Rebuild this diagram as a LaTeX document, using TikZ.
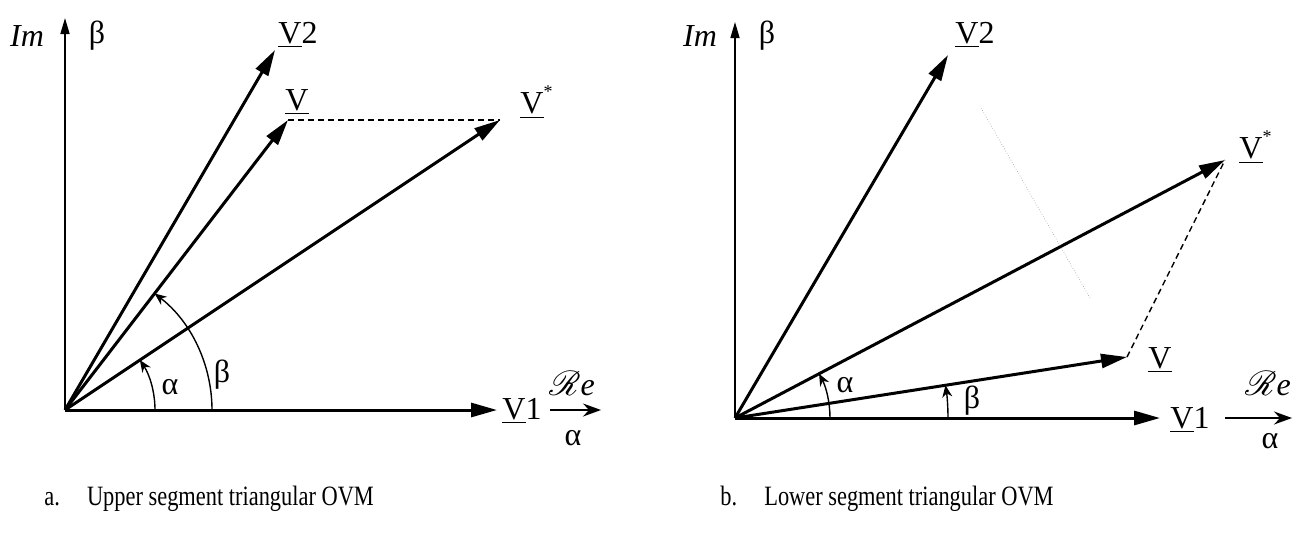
\documentclass[tikz,border=0pt]{standalone}
\usepackage{fontspec}
\setmainfont{Liberation Serif}
\usepackage{mathrsfs}
\usetikzlibrary{arrows.meta}
\definecolor{faintgray}{HTML}{9A9A9A}

\begin{document}
\begin{tikzpicture}[x=0.5pt,y=-0.5pt,
  vec/.style={line width=1.5pt,-{Triangle[length=13pt,width=7pt]}},
  axis/.style={line width=0.8pt,-{Triangle[length=8pt,width=4.5pt]}},
  reaxis/.style={line width=0.8pt,-{Stealth[length=9pt,width=6.5pt,inset=3pt]}},
  angarc/.style={line width=0.7pt,-{Stealth[length=6pt,width=5pt]}},
  dashline/.style={line width=0.7pt,dash pattern=on 3pt off 2pt},
  lbl/.style={inner sep=0pt,font=\fontsize{16}{18}\selectfont},
  captext/.style={inner sep=0pt,anchor=base west,xscale=0.8,font=\fontsize{14}{16}\selectfont}]
  \useasboundingbox (0,0) rectangle (1306,532);

  % a. upper segment
  \coordinate (oa) at (65,410);
  \coordinate (ima) at (65,18);
  \coordinate (v1a) at (497,410);
  \coordinate (v2a) at (275,50);
  \coordinate (va) at (288,120);
  \coordinate (vsa) at (500,120);
  \coordinate (rea) at (550,410);
  \coordinate (reaend) at (601,410);

  \draw[axis] (oa) -- (ima);
  \draw[vec] (oa) -- (v1a);
  \draw[vec] (oa) -- (v2a);
  \draw[vec] (oa) -- (va);
  \draw[vec] (oa) -- (vsa);
  \draw[dashline] (va) -- (vsa);
  \draw[reaxis] (rea) -- (reaend);
  \draw[angarc] (oa) ++(90,0) arc[start angle=0,end angle=-33.69,radius=90];
  \draw[angarc] (oa) ++(147,0) arc[start angle=0,end angle=-52.44,radius=147];

  \node[lbl] (ima-l) at (27,36) {\textit{Im}};
  \node[lbl] (beta-a) at (97,36) {β};
  \node[lbl,anchor=west] (v2a-l) at (278,35) {\underline{V}2};
  \node[lbl] (va-l) at (297,102) {\underline{V}};
  \node[lbl] (vsa-l) at (532,102) {\underline{V}\rlap{\raisebox{1.1ex}{\small *}}};
  \node[lbl] (v1a-l) at (522,411) {\underline{V}1};
  \node[lbl] (rea-l) at (572,384) {$\mathscr{R}\mathit{e}$};
  \node[lbl] (alpha-ax-a) at (573,438) {α};
  \node[lbl] (alpha-a) at (170,387) {α};
  \node[lbl] (beta-arc-a) at (222,375) {β};
  \node[captext] (cap-a) at (44,505) {a.\hspace{17pt}Upper segment triangular OVM};

  % b. lower segment
  \coordinate (ob) at (735,418);
  \coordinate (imb) at (735,22);
  \coordinate (v1b) at (1160,418);
  \coordinate (v2b) at (948,55);
  \coordinate (vb) at (1127,357);
  \coordinate (vsb) at (1225,160);
  \coordinate (reb) at (1225,418);
  \coordinate (rebend) at (1292,418);
  \coordinate (fainttop) at (981,108);
  \coordinate (faintbot) at (1090,298);

  \draw[axis] (ob) -- (imb);
  \draw[vec] (ob) -- (v1b);
  \draw[vec] (ob) -- (v2b);
  \draw[vec] (ob) -- (vb);
  \draw[vec] (ob) -- (vsb);
  \draw[dashline] (vb) -- (vsb);
  \draw[faintgray,line width=0.3pt,densely dotted] (fainttop) -- (faintbot);
  \draw[reaxis] (reb) -- (rebend);
  \draw[angarc] (ob) ++(95,0) arc[start angle=0,end angle=-27.77,radius=95];
  \draw[angarc] (ob) ++(213,0) arc[start angle=0,end angle=-8.85,radius=213];

  \node[lbl] (imb-l) at (700,36) {\textit{Im}};
  \node[lbl] (beta-b) at (767,36) {β};
  \node[lbl,anchor=west] (v2b-l) at (955,35) {\underline{V}2};
  \node[lbl] (vsb-l) at (1251,147) {\underline{V}\rlap{\raisebox{1.1ex}{\small *}}};
  \node[lbl] (vb-l) at (1160,360) {\underline{V}};
  \node[lbl] (v1b-l) at (1190,420) {\underline{V}1};
  \node[lbl] (reb-l) at (1268,384) {$\mathscr{R}\mathit{e}$};
  \node[lbl] (alpha-ax-b) at (1270,441) {α};
  \node[lbl] (alpha-b) at (845,385) {α};
  \node[lbl] (beta-arc-b) at (972,401) {β};
  \node[captext] (cap-b) at (720,505) {b.\hspace{17pt}Lower segment triangular OVM};
\end{tikzpicture}
\end{document}
